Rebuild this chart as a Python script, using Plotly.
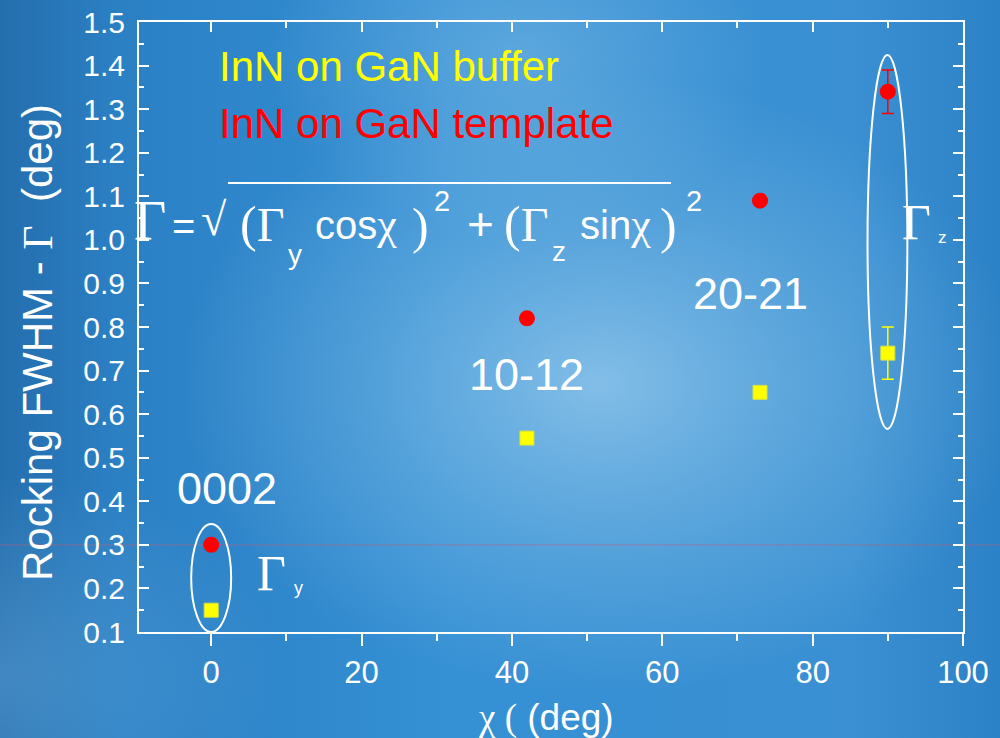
import base64
import plotly.graph_objects as go

W, H = 1000, 738

# Rocking-curve FWHM versus tilt angle chi for the three reflections
chi_buffer = [0, 42, 73, 90]
fwhm_buffer = [0.15, 0.545, 0.65, 0.74]
err_buffer = [None, None, None, 0.06]

chi_template = [0, 42, 73, 90]
fwhm_template = [0.30, 0.82, 1.09, 1.34]
err_template = [None, None, None, 0.05]

reflections = ["0002", "10-12", "20-21"]
reflection_pos = [(2.1, 0.43), (41.9, 0.692), (71.7, 0.876)]

x_ticks = [0, 20, 40, 60, 80, 100]
y_ticks = [0.1, 0.2, 0.3, 0.4, 0.5, 0.6, 0.7, 0.8, 0.9, 1.0, 1.1, 1.2, 1.3, 1.4, 1.5]

SANS = "Liberation Sans, Arial, sans-serif"
SERIF = "Liberation Serif, Times New Roman, serif"
WHITE = "white"

# soft blue backdrop
svg = f"""<svg xmlns="http://www.w3.org/2000/svg" width="{W}" height="{H}">
<defs>
<linearGradient id="g" x1="0" y1="0" x2="1" y2="0">
<stop offset="0" stop-color="#246ead"/>
<stop offset="0.12" stop-color="#2b80c4"/>
<stop offset="0.45" stop-color="#3590d4"/>
<stop offset="0.85" stop-color="#3a90d2"/>
<stop offset="1" stop-color="#2c82c6"/>
</linearGradient>
<radialGradient id="r" cx="0.6" cy="0.52" r="0.42">
<stop offset="0" stop-color="#9ccdee" stop-opacity="0.75"/>
<stop offset="0.6" stop-color="#8cc4ea" stop-opacity="0.3"/>
<stop offset="1" stop-color="#8cc4ea" stop-opacity="0"/>
</radialGradient>
<radialGradient id="t" cx="0.52" cy="0.08" r="0.25">
<stop offset="0" stop-color="#8cc4ea" stop-opacity="0.45"/>
<stop offset="1" stop-color="#8cc4ea" stop-opacity="0"/>
</radialGradient>
<radialGradient id="b" cx="0.0" cy="0.92" r="0.28">
<stop offset="0" stop-color="#7ab8e6" stop-opacity="0.35"/>
<stop offset="1" stop-color="#7ab8e6" stop-opacity="0"/>
</radialGradient>
</defs>
<rect width="{W}" height="{H}" fill="url(#g)"/>
<rect width="{W}" height="{H}" fill="url(#r)"/>
<rect width="{W}" height="{H}" fill="url(#t)"/>
<rect width="{W}" height="{H}" fill="url(#b)"/>
</svg>"""
bg_src = "data:image/svg+xml;base64," + base64.b64encode(svg.encode()).decode()

fig = go.Figure()

fig.add_trace(go.Scatter(
    x=chi_buffer, y=fwhm_buffer, mode="markers", name="InN on GaN buffer",
    marker=dict(symbol="square", size=14, color="#ffff00",
                line=dict(color="#d8e040", width=1)),
    error_y=dict(type="data", array=err_buffer, visible=True,
                 color="#ffff00", thickness=1.5, width=6),
    showlegend=False,
))
fig.add_trace(go.Scatter(
    x=chi_template, y=fwhm_template, mode="markers", name="InN on GaN template",
    marker=dict(symbol="circle", size=16, color="#ff0000"),
    error_y=dict(type="data", array=err_template, visible=True,
                 color="#ff0000", thickness=1.5, width=6),
    showlegend=False,
))
# carrier for the top tick axis
fig.add_trace(go.Scatter(x=[None], y=[None], xaxis="x2", showlegend=False,
                         hoverinfo="skip"))


def px(xp):
    return xp / W


def py(yp):
    return 1 - yp / H


def txt(text, x, y, size, family=SANS, color=WHITE, data=False,
        xanchor="center", yanchor="middle", angle=0):
    return dict(text=text, x=x, y=y,
                xref="x" if data else "paper", yref="y" if data else "paper",
                showarrow=False, xanchor=xanchor, yanchor=yanchor,
                textangle=angle,
                font=dict(size=size, family=family, color=color))


def serif(s, size=None):
    st = "font-family:Liberation Serif"
    if size:
        st += f";font-size:{size}px"
    return f"<span style='{st}'>{s}</span>"


ann = []
# series key
ann.append(txt("InN on GaN buffer", 0.73, 1.397, 42, color="#ffff00",
               data=True, xanchor="left"))
ann.append(txt("InN on GaN template", 0.73, 1.266, 42, color="#ff0000",
               data=True, xanchor="left"))

# reflection labels
for name, (lx, ly) in zip(reflections, reflection_pos):
    ann.append(txt(name, lx, ly, 45, data=True))

# Gamma_y and Gamma_z tags
ann.append(txt("Γ", 8.0, 0.235, 50, family=SERIF, data=True))
ann.append(txt("y", 11.6, 0.20, 18, data=True))
ann.append(txt("Γ", 93.8, 1.04, 50, family=SERIF, data=True))
ann.append(txt("z", 97.3, 1.005, 17, data=True))

# formula  Γ = sqrt((Γy cosχ)^2 + (Γz sinχ)^2)
formula = [
    # text, x px, y px, size, family, x anchor
    ("Γ", 150, 221, 56, SERIF, "center"),
    ("=", 183, 226, 40, SANS, "center"),
    ("√", 214, 219, 46, SERIF, "center"),
    (serif("(", 50) + "Γ", 238, 224, 48, SERIF, "left"),
    ("y", 295, 254, 28, SANS, "center"),
    ("cos" + serif("χ", 44), 313, 224, 40, SANS, "left"),
    (")", 420, 226, 50, SERIF, "center"),
    ("2", 442, 201, 29, SANS, "center"),
    ("+", 480, 224, 46, SANS, "center"),
    (serif("(", 50) + "Γ", 502, 224, 48, SERIF, "left"),
    ("z", 559, 251, 28, SANS, "center"),
    ("sin" + serif("χ", 44), 578, 224, 40, SANS, "left"),
    (")", 668, 226, 50, SERIF, "center"),
    ("2", 694, 201, 29, SANS, "center"),
]
for t, xp, yp, s, f, xa in formula:
    ann.append(txt(t, px(xp), py(yp), s, family=f, xanchor=xa))

# axis titles
ann.append(txt("Rocking FWHM - " + serif("Γ") + "  (deg)",
               px(38), py(343), 42, angle=-90))
ann.append(txt(serif("χ (") + " (deg)", px(546), py(718), 37))

shapes = [
    # faint reference line at 0.3
    dict(type="line", xref="paper", yref="y", x0=0, x1=1, y0=0.3, y1=0.3,
         line=dict(color="rgba(185,95,125,0.55)", width=1), layer="below"),
    # square-root bar
    dict(type="line", xref="paper", yref="paper", x0=px(228), x1=px(671),
         y0=py(183), y1=py(183), line=dict(color=WHITE, width=2)),
    # group outlines
    dict(type="circle", xref="x", yref="y", x0=-2.66, x1=2.66, y0=0.10, y1=0.348,
         line=dict(color=WHITE, width=2)),
    dict(type="circle", xref="x", yref="y", x0=87.3, x1=92.6, y0=0.566, y1=1.424,
         line=dict(color=WHITE, width=2)),
]

x_dom = [139 / W, 963 / W]
y_dom = [1 - 632 / H, 1 - 22 / H]
x_rng = [-9.6, 100]

fig.update_layout(
    width=W, height=H, autosize=False,
    margin=dict(l=0, r=0, t=0, b=0, pad=0, autoexpand=False),
    paper_bgcolor="#3a8fd0",
    plot_bgcolor="rgba(0,0,0,0)",
    images=[dict(source=bg_src, xref="paper", yref="paper", x=0, y=1,
                 sizex=1, sizey=1, sizing="stretch", xanchor="left",
                 yanchor="top", layer="below")],
    xaxis=dict(
        domain=x_dom, range=x_rng, anchor="y", automargin=False,
        showline=True, linecolor=WHITE, linewidth=2, mirror=True,
        ticks="outside", ticklen=12, tickwidth=2, tickcolor=WHITE,
        tickvals=x_ticks, tickfont=dict(size=31, color=WHITE, family=SANS),
        minor=dict(dtick=10, ticks="outside", ticklen=7, tickwidth=2,
                   tickcolor=WHITE),
        showgrid=False, zeroline=False,
    ),
    xaxis2=dict(
        overlaying="x", matches="x", side="top", anchor="y", range=x_rng,
        automargin=False,
        ticks="inside", ticklen=10, tickwidth=2, tickcolor=WHITE,
        tickvals=x_ticks, showticklabels=False,
        minor=dict(dtick=10, ticks="inside", ticklen=6, tickwidth=2,
                   tickcolor=WHITE),
        showline=False, showgrid=False, zeroline=False,
    ),
    yaxis=dict(
        domain=y_dom, range=[0.1, 1.5], anchor="x", automargin=False,
        showline=True, linecolor=WHITE, linewidth=2, mirror="ticks",
        ticks="inside", ticklen=10, tickwidth=2, tickcolor=WHITE,
        tickvals=y_ticks, tickformat=".1f", ticklabelstandoff=6,
        tickfont=dict(size=30, color=WHITE, family=SANS),
        minor=dict(dtick=0.05, tick0=0.1, ticks="inside", ticklen=5,
                   tickwidth=2, tickcolor=WHITE),
        showgrid=False, zeroline=False,
    ),
    annotations=ann,
    shapes=shapes,
)

fig.write_html("out.html")
